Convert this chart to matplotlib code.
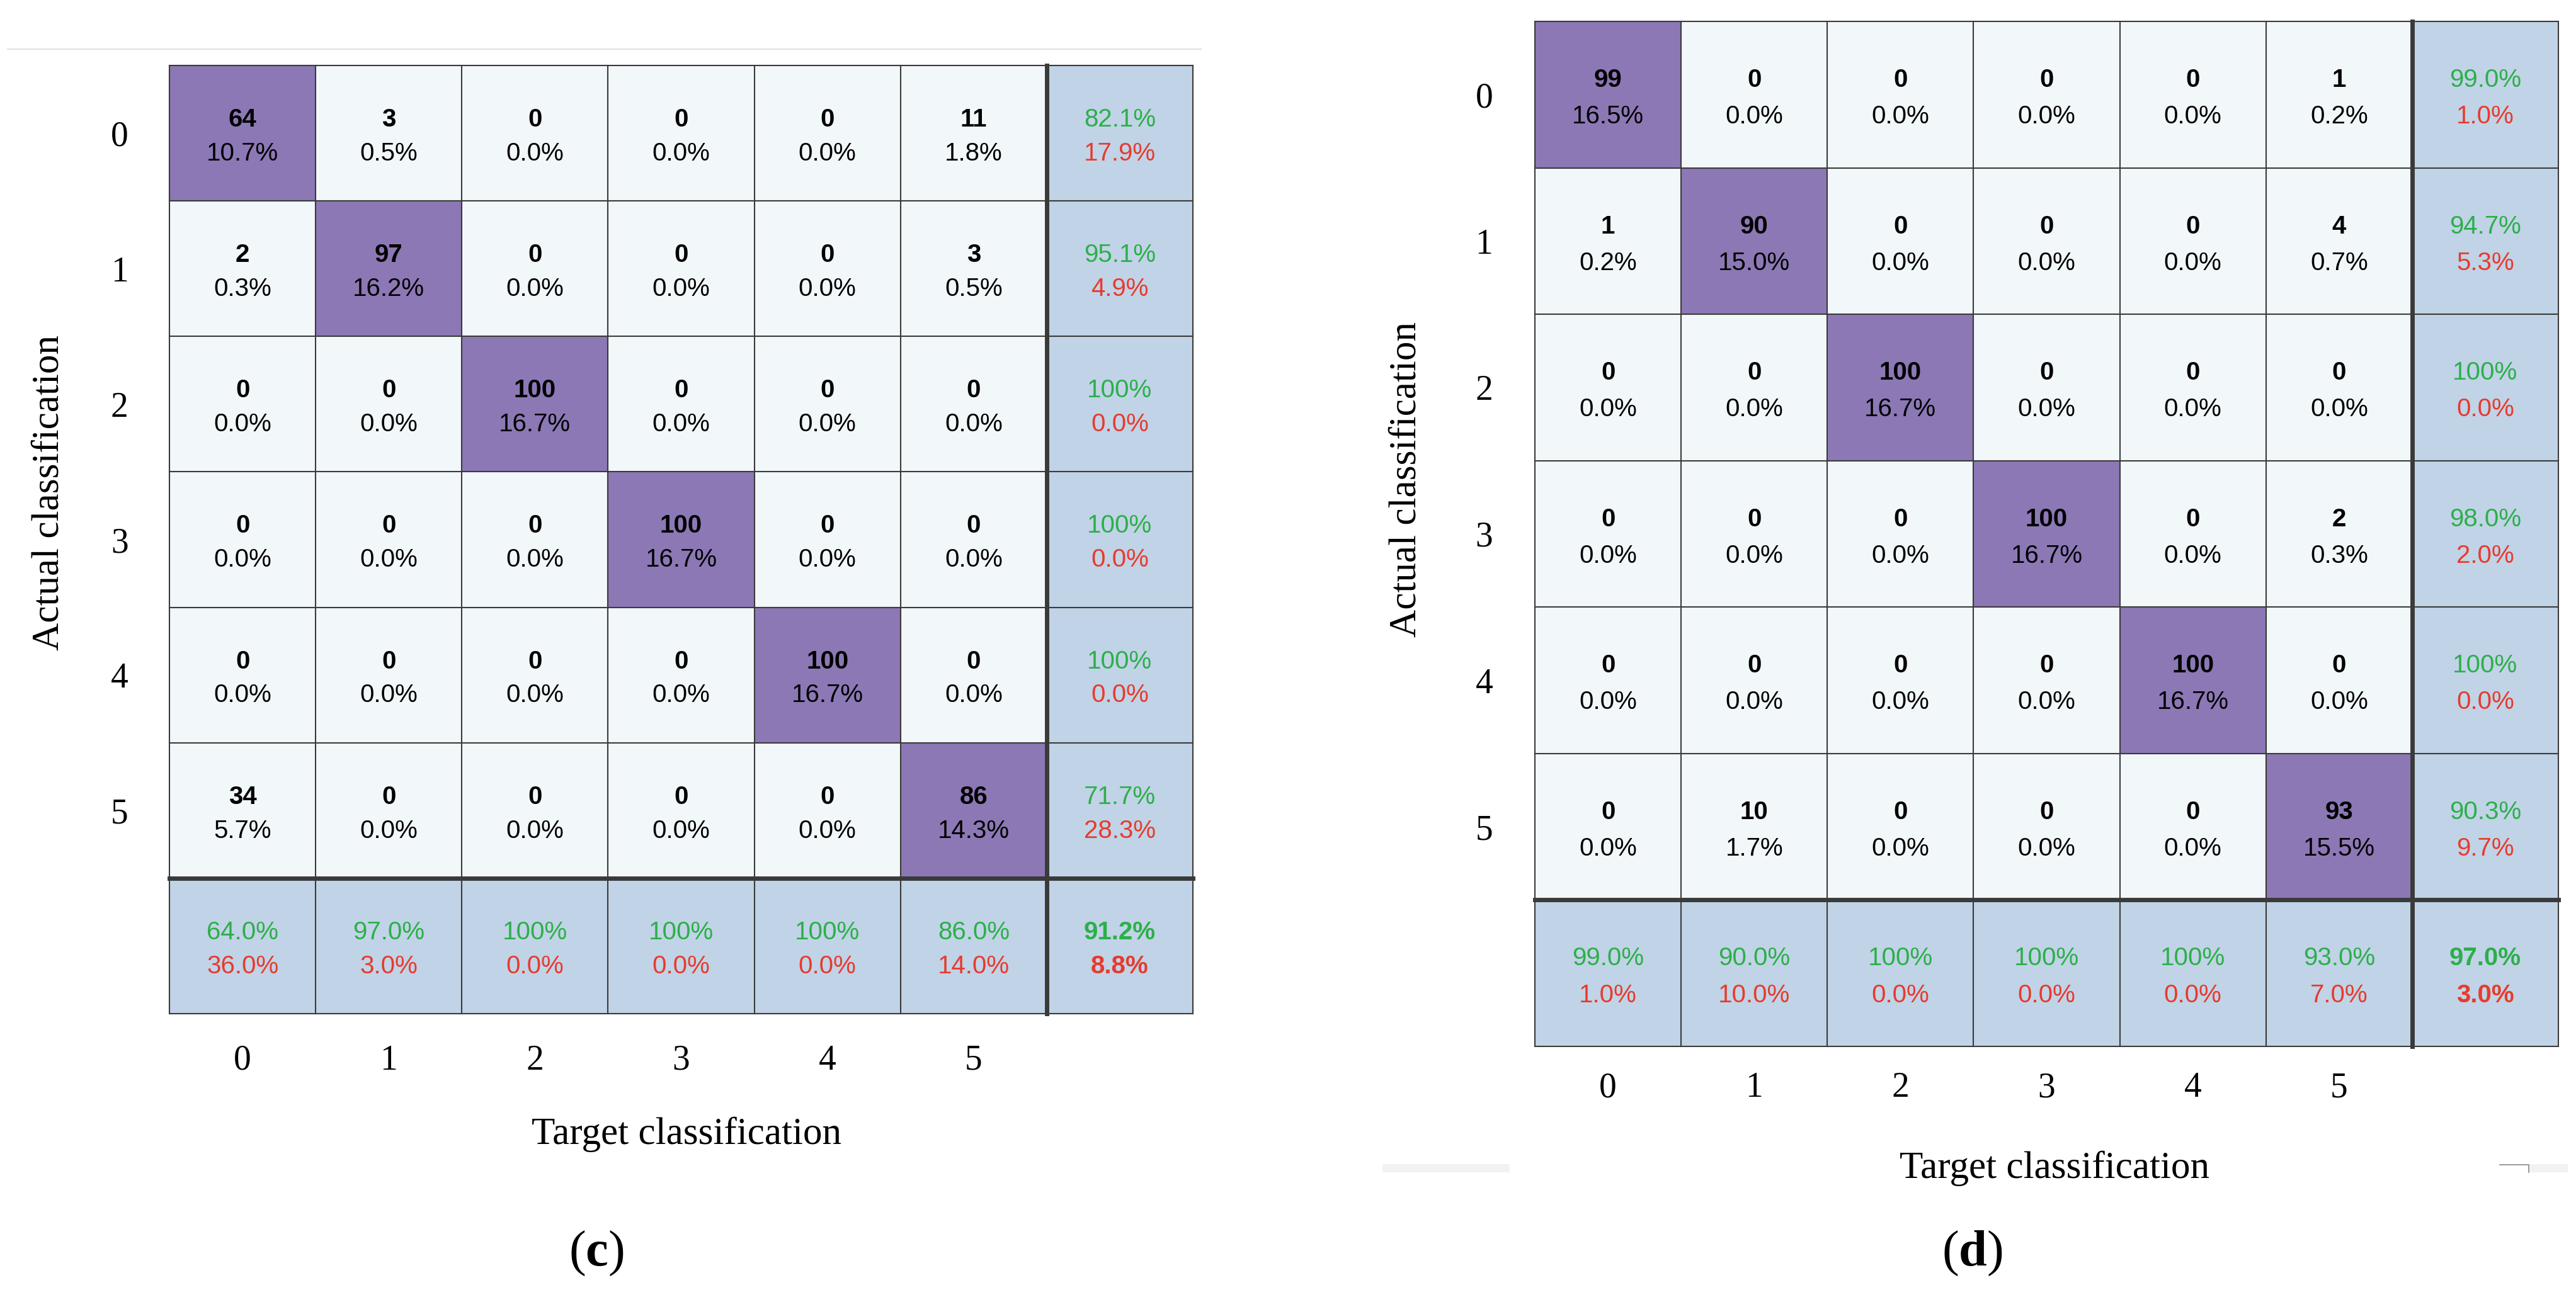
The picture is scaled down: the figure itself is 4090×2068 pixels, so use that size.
import matplotlib
matplotlib.use("Agg")
import matplotlib.pyplot as plt
import numpy as np
from matplotlib.patches import Rectangle
from matplotlib.lines import Line2D

plt.rcParams["mathtext.fontset"] = "custom"
plt.rcParams["mathtext.rm"] = "Liberation Serif"
plt.rcParams["mathtext.bf"] = "Liberation Serif:bold"

classes = ["0", "1", "2", "3", "4", "5"]

# confusion matrices (rows: actual, cols: target)
cm_c = np.array([
    [64, 3, 0, 0, 0, 11],
    [2, 97, 0, 0, 0, 3],
    [0, 0, 100, 0, 0, 0],
    [0, 0, 0, 100, 0, 0],
    [0, 0, 0, 0, 100, 0],
    [34, 0, 0, 0, 0, 86],
])
cm_d = np.array([
    [99, 0, 0, 0, 0, 1],
    [1, 90, 0, 0, 0, 4],
    [0, 0, 100, 0, 0, 0],
    [0, 0, 0, 100, 0, 2],
    [0, 0, 0, 0, 100, 0],
    [0, 10, 0, 0, 0, 93],
])

PURPLE = "#8C78B5"
LIGHT = "#F2F7FA"
BLUE = "#C1D3E6"
GREEN = "#2BAF4A"
RED = "#E63B2E"
LINE = "#3A3A3A"

SANS = "Liberation Sans"
SERIF = "Liberation Serif"

W, H = 4091, 2068
fig = plt.figure(figsize=(W / 100, H / 100), dpi=100)


def pct(v):
    return "100%" if round(v, 1) >= 100 else "%.1f%%" % v


def px_axes(x0, y0, x1, y1):
    return fig.add_axes([x0 / W, 1 - y1 / H, (x1 - x0) / W, (y1 - y0) / H])


def draw_panel(ax, cm, xpad, ypad):
    n = cm.shape[0]
    total = cm.sum()
    ax.set_xlim(0, n + 1)
    ax.set_ylim(n + 1, 0)
    for i in range(n + 1):
        for j in range(n + 1):
            if i == n or j == n:
                fc = BLUE
            elif i == j:
                fc = PURPLE
            else:
                fc = LIGHT
            ax.add_patch(Rectangle((j, i), 1, 1, facecolor=fc, edgecolor="none"))

    for i in range(n):
        for j in range(n):
            ax.text(j + 0.5, i + 0.5 - 0.10, str(cm[i, j]), ha="center", va="center",
                    fontsize=29, fontweight="bold", family=SANS, color="black")
            ax.text(j + 0.5, i + 0.5 + 0.15, "%.1f%%" % (cm[i, j] / total * 100),
                    ha="center", va="center", fontsize=29, family=SANS, color="black")

    row_ok = np.diag(cm) / cm.sum(axis=1) * 100
    col_ok = np.diag(cm) / cm.sum(axis=0) * 100
    for i in range(n):
        ax.text(n + 0.5, i + 0.5 - 0.10, pct(row_ok[i]), ha="center", va="center",
                fontsize=29, family=SANS, color=GREEN)
        ax.text(n + 0.5, i + 0.5 + 0.15, pct(100 - row_ok[i]), ha="center", va="center",
                fontsize=29, family=SANS, color=RED)
    for j in range(n):
        ax.text(j + 0.5, n + 0.5 - 0.10, pct(col_ok[j]), ha="center", va="center",
                fontsize=29, family=SANS, color=GREEN)
        ax.text(j + 0.5, n + 0.5 + 0.15, pct(100 - col_ok[j]), ha="center", va="center",
                fontsize=29, family=SANS, color=RED)
    acc = np.trace(cm) / total * 100
    ax.text(n + 0.5, n + 0.5 - 0.10, pct(acc), ha="center", va="center",
            fontsize=29, fontweight="bold", family=SANS, color=GREEN)
    ax.text(n + 0.5, n + 0.5 + 0.15, pct(100 - acc), ha="center", va="center",
            fontsize=29, fontweight="bold", family=SANS, color=RED)

    # grid lines
    for k in range(n + 2):
        lw = 5.0 if k == n else 1.5
        ax.axhline(k, color=LINE, lw=lw, clip_on=False)
        ax.axvline(k, color=LINE, lw=lw, clip_on=False)

    for s in ax.spines.values():
        s.set_visible(False)
    ax.set_xticks(np.arange(n) + 0.5)
    ax.set_xticklabels(classes, family=SERIF, fontsize=40)
    ax.set_yticks(np.arange(n) + 0.5)
    ax.set_yticklabels(classes, family=SERIF, fontsize=40)
    ax.tick_params(length=0, axis="x", pad=xpad)
    ax.tick_params(length=0, axis="y", pad=ypad)


ax_c = px_axes(269, 104, 1894, 1610)
draw_panel(ax_c, cm_c, 35, 47)
ax_d = px_axes(2437, 34, 4062, 1662)
draw_panel(ax_d, cm_d, 29, 48)

# axis labels and panel captions
fig.text(1090 / W, 1 - 1802 / H, "Target classification", ha="center", va="center",
         family=SERIF, fontsize=44)
fig.text(78 / W, 1 - 783 / H, "Actual classification", ha="center", va="center",
         rotation=90, family=SERIF, fontsize=44)
fig.text(3262 / W, 1 - 1856 / H, "Target classification", ha="center", va="center",
         family=SERIF, fontsize=44)
fig.text(2233 / W, 1 - 762 / H, "Actual classification", ha="center", va="center",
         rotation=90, family=SERIF, fontsize=44)

for cx, letter in [(947, "c"), (3131, "d")]:
    fig.text(cx / W, 1 - 1991 / H, "(" + r"$\mathbf{" + letter + r"}$" + ")",
             ha="center", va="center", family=SERIF, fontsize=58)

# page decorations
fig.add_artist(Line2D([12 / W, 1907 / W], [1 - 78 / H, 1 - 78 / H], color="#E2E2E2", lw=1.6))
fig.add_artist(Rectangle((2195 / W, 1 - 1862 / H), 202 / W, 13 / H, facecolor="#F2F2F2",
                         edgecolor="none", transform=fig.transFigure))
fig.add_artist(Rectangle((4015 / W, 1 - 1862 / H), 62 / W, 13 / H, facecolor="#F2F2F2",
                         edgecolor="none", transform=fig.transFigure))
fig.add_artist(Line2D([3969 / W, 4015 / W, 4015 / W], [1 - 1850 / H, 1 - 1850 / H, 1 - 1862 / H],
                      color="#888888", lw=1.2))

fig.savefig("out.png", dpi=100)
